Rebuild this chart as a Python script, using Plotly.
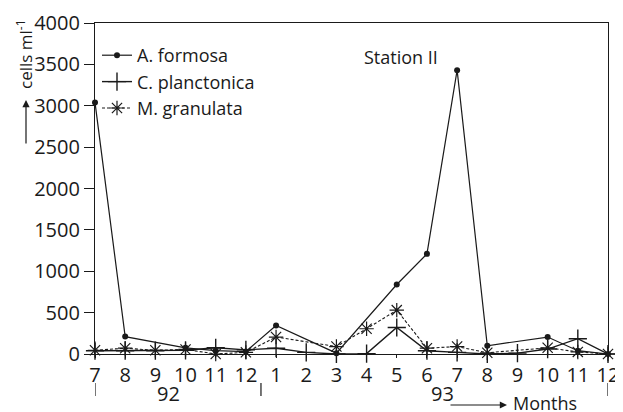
import plotly.graph_objects as go

# ---- data ----
months = ["7", "8", "9", "10", "11", "12", "1", "2", "3", "4", "5", "6", "7", "8", "9", "10", "11", "12"]
a_formosa = [3040, 210, None, 75, 40, 30, 345, None, 10, None, 840, 1210, 3430, 100, None, 205, 40, 0]
c_planctonica = [40, 40, 40, 45, 75, 50, 70, 20, 0, 5, 320, 40, 20, 0, 10, 60, 185, 0]
m_granulata = [45, 70, 45, 55, 0, 20, 205, None, 90, 305, 530, 70, 90, 15, None, 75, 25, 0]
y_ticks = [0, 500, 1000, 1500, 2000, 2500, 3000, 3500, 4000]
years = ["92", "93"]

# page body has a default 8px margin; figure is sized so it fits the 623x412 window
OFF = 8
W, H = 623 - OFF, 412 - OFF
PL, PR, PT, PB = 95, 608, 23, 354      # plot area in window pixels
L, T = PL - OFF, PT - OFF
R, B = W - (PR - OFF), H - (PB - OFF)

def px(xw):
    return (xw - PL) / (PR - PL)

def py(yw):
    return (PB - yw) / (PB - PT)

FONT = "Open Sans"
INK = "#1a1a1a"
x = list(range(len(months)))

fig = go.Figure()
fig.add_trace(go.Scatter(
    x=x, y=a_formosa, name="A. formosa", mode="lines+markers", connectgaps=True,
    line=dict(color=INK, width=1.2),
    marker=dict(symbol="circle", size=6, color=INK), cliponaxis=False))
fig.add_trace(go.Scatter(
    x=x, y=c_planctonica, name="C. planctonica", mode="lines+markers", connectgaps=True,
    line=dict(color=INK, width=1.4),
    marker=dict(symbol="cross-thin", size=13, line=dict(color=INK, width=1.4)), cliponaxis=False))
fig.add_trace(go.Scatter(
    x=x, y=m_granulata, name="M. granulata", mode="lines+markers", connectgaps=True,
    line=dict(color=INK, width=1.1, dash="3px,2px"),
    marker=dict(symbol="asterisk-open", size=12, line=dict(color=INK, width=1.2)), cliponaxis=False))

fig.update_layout(
    width=W, height=H, margin=dict(l=L, r=R, t=T, b=B, autoexpand=False),
    paper_bgcolor="white", plot_bgcolor="white",
    font=dict(family=FONT, size=18, color=INK),
    showlegend=True,
    legend=dict(x=px(97), y=py(37), xanchor="left", yanchor="top",
                bgcolor="rgba(0,0,0,0)", font=dict(size=18, family=FONT),
                tracegroupgap=0, itemwidth=30),
    xaxis=dict(range=[0, 17], tickvals=x, ticktext=months, showgrid=False, zeroline=False,
               showline=True, linecolor=INK, linewidth=1.2, mirror=True, automargin=False,
               ticks="outside", ticklen=3, tickcolor=INK,
               tickfont=dict(size=20, family=FONT)),
    yaxis=dict(range=[0, 4000], tickvals=y_ticks, showgrid=False, zeroline=False,
               showline=True, linecolor=INK, linewidth=1.2, mirror=True, automargin=False,
               ticks="outside", ticklen=10, tickcolor=INK,
               tickfont=dict(size=20, family=FONT)),
)

ann = []
ann.append(dict(text="Station II", x=px(362), y=py(57), xref="paper", yref="paper",
                xanchor="left", yanchor="middle", showarrow=False, font=dict(size=18)))
ann.append(dict(text="cells ml<sup>-1</sup>", x=px(25), y=py(55), xref="paper", yref="paper",
                xanchor="center", yanchor="middle", textangle=-90, showarrow=False,
                font=dict(size=17)))
ann.append(dict(text="", x=px(26), y=py(100), xref="paper", yref="paper",
                showarrow=True, ax=0, ay=45, arrowhead=2, arrowsize=1.2, arrowwidth=1.2,
                arrowcolor=INK))
ann.append(dict(text="", x=px(507), y=py(405), xref="paper", yref="paper",
                showarrow=True, ax=-58, ay=0, arrowhead=2, arrowsize=1.2, arrowwidth=1.2,
                arrowcolor=INK))
ann.append(dict(text="Months", x=px(511), y=py(403), xref="paper", yref="paper",
                xanchor="left", yanchor="middle", showarrow=False, font=dict(size=18)))
ann.append(dict(text=years[0], x=2.45, y=py(393), xref="x", yref="paper",
                xanchor="center", yanchor="middle", showarrow=False, font=dict(size=20)))
ann.append(dict(text=years[1], x=11.5, y=py(393), xref="x", yref="paper",
                xanchor="center", yanchor="middle", showarrow=False, font=dict(size=20)))
fig.update_layout(annotations=ann)

for sx in [0, 5.5, 17]:
    fig.add_shape(type="line", xref="x", yref="paper", x0=sx, x1=sx,
                  y0=py(383), y1=py(396), line=dict(color=INK, width=1.2))

fig.write_html("out.html")
